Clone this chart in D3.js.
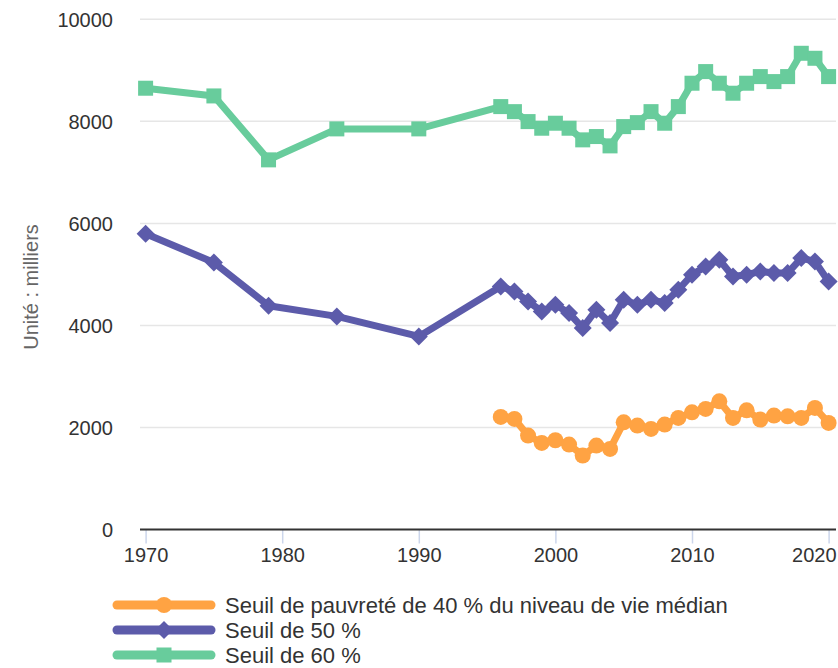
<!DOCTYPE html>
<html><head><meta charset="utf-8">
<script src="https://cdn.jsdelivr.net/npm/d3@7"></script>
<style>body{margin:0;background:#fff;} svg{display:block;font-family:"Liberation Sans",Arial,sans-serif;}</style>
</head><body><svg id="c" width="838" height="668"></svg>
<script>
const yearsEarly = [1970, 1975, 1979, 1984, 1990];
const yearsRecent = [1996,1997,1998,1999,2000,2001,2002,2003,2004,2005,2006,2007,2008,2009,2010,2011,2012,2013,2014,2015,2016,2017,2018,2019,2020];
const seuil40 = [2206,2167,1841,1697,1749,1664,1449,1645,1580,2101,2036,1971,2056,2187,2297,2363,2513,2187,2336,2154,2232,2219,2187,2383,2089];
const seuil50Early = [5796,5234,4386,4177,3785];
const seuil50 = [4764,4666,4470,4275,4406,4243,3950,4308,4047,4504,4406,4504,4439,4699,4993,5156,5287,4960,4993,5058,5026,5026,5320,5254,4862];
const seuil60Early = [8649,8498,7245,7852,7852];
const seuil60 = [8289,8190,7995,7865,7963,7865,7637,7702,7519,7897,7975,8190,7963,8289,8747,8975,8747,8551,8747,8877,8779,8877,9334,9236,8877];
const yTicks = [0,2000,4000,6000,8000,10000];
const xTicks = [1970,1980,1990,2000,2010,2020];
const seriesNames = ["Seuil de pauvreté de 40 % du niveau de vie médian","Seuil de 50 %","Seuil de 60 %"];
const seriesColors = ["#ffa343","#5c5baa","#68cc9c"];
const seriesMarkers = ["circle","diamond","square"];
const yTitle = "Unité : milliers";

const svg = d3.select("#c");
const x = d3.scaleLinear().domain([1970, 2020]).range([145.6, 828.6]);
const y = d3.scaleLinear().domain([0, 10000]).range([529.5, 19.3]);
const plotL = 140, plotR = 836;

// gridlines
const g = svg.append("g");
g.selectAll("line.grid").data(yTicks.filter(t=>t>0)).join("line")
  .attr("x1", plotL).attr("x2", plotR).attr("y1", d=>y(d)).attr("y2", d=>y(d))
  .attr("stroke","#e6e6e6").attr("stroke-width",1.5);

// y axis labels
const yAxis = d3.axisLeft(y).tickValues(yTicks).tickSize(0).tickPadding(0).tickFormat(d3.format("d"));
svg.append("g").attr("transform",`translate(113,0)`).call(yAxis)
  .call(s=>s.select(".domain").remove())
  .call(s=>s.selectAll("text").attr("font-size",20).attr("fill","#333").attr("font-family","Liberation Sans, Arial, sans-serif").attr("dy","0.35em"));

// x axis
const xAxis = d3.axisBottom(x).tickValues(xTicks).tickSize(14).tickPadding(4).tickFormat(d3.format("d"));
const xa = svg.append("g").attr("transform",`translate(0,${y(0)})`).call(xAxis);
xa.select(".domain").remove();
xa.selectAll(".tick line").attr("stroke","#ccd6eb").attr("stroke-width",1.5);
xa.selectAll("text").attr("font-size",20).attr("fill","#333").attr("font-family","Liberation Sans, Arial, sans-serif");
// keep the last label inside the chart
xa.selectAll(".tick").filter(d=>d===2020).select("text").attr("text-anchor","end").attr("x", plotR - x(2020));
svg.append("line").attr("x1",plotL).attr("x2",plotR).attr("y1",y(0)).attr("y2",y(0)).attr("stroke","#333").attr("stroke-width",2);

// y title
svg.append("text").attr("transform",`translate(38,287) rotate(-90)`).attr("text-anchor","middle")
  .attr("font-size",20).attr("fill","#666").text(yTitle);

const line = d3.line().x(d=>x(d[0])).y(d=>y(d[1]));
const data = [
  yearsRecent.map((yr,i)=>[yr, seuil40[i]]),
  yearsEarly.map((yr,i)=>[yr, seuil50Early[i]]).concat(yearsRecent.map((yr,i)=>[yr, seuil50[i]])),
  yearsEarly.map((yr,i)=>[yr, seuil60Early[i]]).concat(yearsRecent.map((yr,i)=>[yr, seuil60[i]]))
];
function marker(sel, type, color){
  if(type==="circle") sel.append("circle").attr("r",8).attr("fill",color);
  else if(type==="square") sel.append("rect").attr("x",-7.5).attr("y",-7.5).attr("width",15).attr("height",15).attr("fill",color);
  else sel.append("path").attr("d","M0,-9L9,0L0,9L-9,0Z").attr("fill",color);
}
data.forEach((ser, i)=>{
  svg.append("path").datum(ser).attr("d",line).attr("fill","none").attr("stroke",seriesColors[i])
    .attr("stroke-width",7).attr("stroke-linejoin","round").attr("stroke-linecap","round");
  svg.append("g").selectAll("g").data(ser).join("g").attr("transform",d=>`translate(${x(d[0])},${y(d[1])})`)
    .each(function(){ marker(d3.select(this), seriesMarkers[i], seriesColors[i]); });
});

// legend
const lg = svg.append("g");
seriesNames.forEach((nm,i)=>{
  const yy = 605 + i*25;
  lg.append("line").attr("x1",117).attr("x2",211).attr("y1",yy).attr("y2",yy).attr("stroke",seriesColors[i]).attr("stroke-width",9).attr("stroke-linecap","round");
  const m = lg.append("g").attr("transform",`translate(164,${yy})`);
  marker(m, seriesMarkers[i], seriesColors[i]);
  lg.append("text").attr("x",225).attr("y",yy).attr("dy","0.35em").attr("font-size",22).attr("fill","#333").text(nm);
});
</script></body></html>
